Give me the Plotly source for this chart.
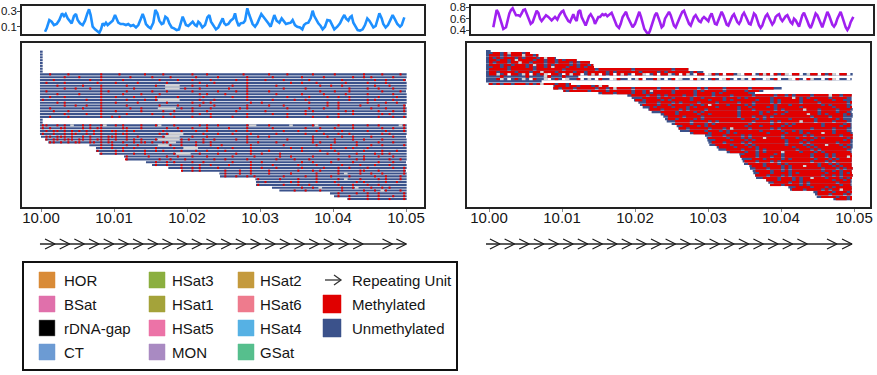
import math
import plotly.graph_objects as go

W, H = 877, 375
MB0 = 10.0          # window start (Mb)
BIN_KB = 0.5        # methylation-call bin size (kb)

# ---------------- top tracks: methylation frequency per window ----------------
left_track_kb = [0.55,0.78,1.14,1.46,1.78,2.15,2.51,2.88,3.15,3.38,3.65,3.97,4.20,4.52,4.79,5.02,5.34,5.71,6.03,6.35,
                 6.58,6.80,7.08,7.40,7.76,7.99,8.22,8.45,8.68,8.90,9.13,9.45,9.82,10.14,10.37,10.59,10.91,11.28,11.64,11.96,
                 12.28,12.65,13.01,13.33,13.65,13.93,14.16,14.38,14.70,15.02,15.39,15.66,15.94,16.21,16.53,16.76,17.03,17.31,17.58,17.90,
                 18.22,18.58,18.90,19.13,19.41,19.63,19.86,20.18,20.50,20.78,21.10,21.32,21.55,21.78,22.10,22.47,22.79,23.06,23.29,23.61,
                 23.97,24.29,24.61,24.89,25.11,25.34,25.66,25.98,26.35,26.58,26.80,27.08,27.35,27.72,27.95,28.26,28.54,28.77,28.99,29.32,
                 29.63,29.91,30.18,30.46,30.78,31.14,31.46,31.74,31.96,32.28,32.65,32.97,33.29,33.56,33.88,34.20,34.47,34.79,35.11,35.48,
                 35.80,36.03,36.30,36.62,36.94,37.21,37.44,37.76,37.99,38.31,38.58,38.90,39.22,39.59,39.91,40.18,40.59,40.96,41.28,41.55,
                 41.78,42.10,42.33,42.56,42.79,43.11,43.38,43.70,44.06,44.38,44.70,44.98,45.21,45.53,45.84,46.12,46.35,46.67,46.89,47.21,
                 47.53,47.90,48.17,48.49,48.81,49.18,49.41,49.77]
left_track_val = [0.036,0.079,0.185,0.164,0.121,0.134,0.185,0.270,0.236,0.262,0.206,0.164,0.143,0.236,0.262,0.185,0.143,0.121,0.177,0.270,
                  0.321,0.249,0.100,0.066,0.036,0.023,0.066,0.143,0.121,0.151,0.121,0.151,0.177,0.249,0.206,0.151,0.134,0.134,0.121,0.134,
                  0.109,0.121,0.091,0.121,0.194,0.262,0.206,0.134,0.100,0.079,0.151,0.313,0.270,0.177,0.134,0.143,0.228,0.206,0.143,0.091,
                  0.079,0.057,0.066,0.143,0.228,0.177,0.121,0.109,0.134,0.164,0.121,0.109,0.164,0.143,0.091,0.121,0.219,0.249,0.164,0.109,
                  0.066,0.091,0.143,0.206,0.143,0.121,0.134,0.177,0.206,0.270,0.177,0.109,0.143,0.151,0.177,0.334,0.249,0.177,0.134,0.100,
                  0.143,0.206,0.262,0.228,0.194,0.143,0.100,0.177,0.249,0.177,0.151,0.206,0.164,0.134,0.143,0.151,0.185,0.121,0.100,0.091,
                  0.066,0.121,0.143,0.151,0.206,0.304,0.236,0.177,0.143,0.109,0.066,0.100,0.185,0.177,0.121,0.066,0.100,0.143,0.206,0.249,
                  0.206,0.177,0.219,0.236,0.151,0.100,0.057,0.049,0.066,0.121,0.206,0.177,0.134,0.091,0.109,0.206,0.270,0.206,0.134,0.091,
                  0.121,0.194,0.249,0.194,0.134,0.100,0.121,0.219]

right_track_kb = [0.59,0.82,1.05,1.28,1.51,1.74,1.96,2.33,2.56,2.79,3.01,3.24,3.47,3.70,4.02,4.25,4.47,4.70,4.93,5.16,
                  5.39,5.71,5.98,6.30,6.53,6.76,6.99,7.21,7.44,7.81,8.13,8.36,8.58,8.81,9.04,9.36,9.63,9.95,10.18,10.41,
                  10.64,10.87,11.10,11.32,11.55,11.78,12.01,12.24,12.47,12.69,13.01,13.24,13.47,13.70,13.93,14.29,14.52,14.75,14.98,15.21,
                  15.53,15.75,15.98,16.21,16.58,16.80,17.03,17.26,17.49,17.81,18.04,18.31,18.54,18.77,19.00,19.22,19.45,19.68,20.00,20.23,
                  20.46,20.59,20.82,21.05,21.28,21.60,21.83,22.05,22.28,22.51,22.74,22.97,23.20,23.42,23.65,23.88,24.11,24.43,24.66,24.89,
                  25.11,25.34,25.57,25.80,26.03,26.26,26.48,26.71,26.94,27.17,27.40,27.63,27.85,28.08,28.31,28.54,28.77,29.00,29.22,29.45,
                  29.68,30.05,30.27,30.50,30.73,30.96,31.19,31.42,31.64,31.87,32.10,32.33,32.56,32.79,33.01,33.33,33.56,33.79,34.02,34.25,
                  34.47,34.70,34.93,35.16,35.39,35.62,35.84,36.07,36.30,36.53,36.76,36.99,37.21,37.44,37.67,37.90,38.13,38.36,38.58,38.81,
                  39.04,39.27,39.50,39.73,39.95,40.18,40.41,40.64,40.87,41.10,41.32,41.55,41.78,42.01,42.24,42.47,42.69,42.92,43.15,43.38,
                  43.61,43.84,44.06,44.29,44.52,44.75,44.98,45.21,45.43,45.66,45.89,46.12,46.35,46.58,46.80,47.03,47.26,47.49,47.72,47.95,
                  48.17,48.40,48.63,48.86,49.09,49.32,49.54,49.91]
right_track_val = [0.448,0.630,0.752,0.703,0.600,0.479,0.418,0.448,0.570,0.691,0.752,0.782,0.721,0.661,0.661,0.642,0.691,0.752,0.764,0.691,
                   0.600,0.509,0.539,0.661,0.739,0.703,0.600,0.558,0.600,0.661,0.630,0.600,0.570,0.600,0.630,0.582,0.661,0.721,0.739,0.661,
                   0.600,0.558,0.539,0.600,0.679,0.600,0.558,0.721,0.752,0.630,0.539,0.479,0.558,0.642,0.679,0.600,0.509,0.558,0.630,0.630,
                   0.679,0.661,0.679,0.642,0.691,0.703,0.630,0.539,0.479,0.436,0.509,0.630,0.679,0.721,0.630,0.570,0.497,0.448,0.509,0.600,
                   0.691,0.721,0.630,0.509,0.418,0.358,0.327,0.388,0.479,0.558,0.661,0.703,0.630,0.539,0.448,0.479,0.600,0.679,0.721,0.661,
                   0.558,0.479,0.448,0.509,0.600,0.661,0.721,0.739,0.661,0.582,0.509,0.479,0.539,0.630,0.661,0.600,0.558,0.539,0.600,0.630,
                   0.600,0.558,0.642,0.691,0.600,0.509,0.497,0.570,0.661,0.721,0.661,0.558,0.497,0.479,0.558,0.642,0.679,0.600,0.539,0.509,
                   0.558,0.661,0.703,0.642,0.570,0.509,0.497,0.600,0.691,0.661,0.570,0.479,0.436,0.479,0.570,0.642,0.679,0.618,0.558,0.497,
                   0.539,0.630,0.661,0.679,0.600,0.558,0.600,0.642,0.661,0.600,0.539,0.509,0.600,0.570,0.509,0.461,0.558,0.661,0.703,0.642,
                   0.558,0.479,0.436,0.509,0.600,0.691,0.661,0.582,0.521,0.448,0.539,0.642,0.721,0.661,0.558,0.497,0.461,0.509,0.600,0.679,
                   0.721,0.630,0.539,0.448,0.400,0.448,0.539,0.630]

# ---------------- reads (kb from 10.00 Mb) and per-bin methylation calls ----------------
# calls: one char per 0.5 kb bin from the read's first bin; m = methylated, u/. = unmethylated,
#        g = no call, w = gap
left_read_start_kb = [-0.14,-0.14,-0.14,-0.14,-0.14,-0.14,-0.14,-0.14,
                      -0.14,-0.14,-0.14,-0.14,-0.14,-0.14,-0.14,-0.14,-0.14,-0.14,-0.14,-0.14,-0.14,-0.14,-0.14,-0.14,
                      -0.14,-0.14,
                      -0.14,-0.14,-0.14,-0.14,0.0,0.55,1.0,6.62,7.53,7.53,7.99,11.37,11.64,14.38,15.21,17.44,19.27,
                      24.43,24.52,29.36,29.45,29.45,31.64,32.65,39.59,40.14,41.96]
left_read_end_kb = [0.23,0.23,0.23,0.23,0.23,0.23,0.23,0.23,
                    50.09,50.09,50.0,50.09,50.09,50.09,50.0,50.09,50.09,50.09,50.09,50.0,50.09,50.09,50.09,50.09,
                    0.23,0.23,
                    50.09,50.09,50.09,50.09,50.0,50.09,50.09,50.09,50.09,50.09,50.09,50.09,50.09,50.0,50.09,50.09,50.0,
                    50.09,50.09,50.09,50.09,50.09,50.09,50.09,50.09,50.09,50.09]
left_read_calls = [
    "", "", "", "", "", "", "", "",
    "..m....m.. ......m... .m......m. ...m...... .m...m.... .....m.... ..m....m.. ....m..... m.......m. ...m....m.",
    "......m... m.....m... ....m..... m....m.... ..m.....m. ......m... ...m...... .m.....m.. .....m..m. m.....m...",
    "...m...... ...m..m... ..m....... ..m....m.. .m....m... ...m..m... .m....m... ...m...... ..m....... .m..m....m",
    ".m....m... .....m.... m.....m... ....m..... ...m...m.. ......m... ........m. .m...m.... ...m.....m ....m.....",
    "....m..... .m....m... ...m...... .m..gggg.. .m...m.... ..m...m... ....m..... ......m..m ..m....... .m...m....",
    "......m..m ...m..m... .....m.... ....gggg.m ...m...... .m....m... ......m... ..m....... ....m....m ..m...m...",
    ".m........ ......m.m. ...m...... m...m..... .m......m. ...m..m... ..m....... ......m... m...m..... ...m....m.",
    "....m..... m.....m... ..m....m.. ..m....... ...m.m.... m.....m... ....m..... .m.....m.. ...m.....m ......m...",
    "..m...m... ......m... m....m.... .m.....m.. ....m..... ..m...m... .......m.. ...m....m. .m..m..... ..m....m..",
    "m......... ..m...m... ...m....m. .mgggggg.. ...m...m.. ......m... ...m.....m ..m....... ....m....m .m....m...",
    "....m.m... ......m... m.....m... ....m..... .m..m.m... .......m.. m......... ...m....m. .m.......m ....m..m..",
    "......m..m ..m...m... ...m...... ..m....m.. ...m...m.. ......m... ..m...m... ........m. .m.....m.. ..m......m",
    "..m....... .m....m... ....m..m.. ..ggggg.m. .m....m... ....m.m... .......m.. ...m...m.. .m........ m...m....m",
    "...m...m.. ......m... m......m.. ...m..m... .m...m.... ...m...... .m........ ..m.m..... ...m.m.... ..m...m..m",
    "......m... ..m...m... ...m...... m....m.... ...m..m... ......m... ...m...m.. ..m....... .m...m.... ...m.m....",
    "..m....m.. ......m..m .m........ ...m..m... .m....m... ..m...m... .......m.. ....m...m. .m........ ..m...m..m",
    "", "",
    "mm..m.m.g. .m.m..mg.. m.m....m.. .mg...m... ...m.m..m. ......mgg. ..m.....g. ....mg.... .m...m...m ..m.....gm",
    "m.m..mm... .m.m.mm... ..mm...m.. ....m..m.. .m...m.... .m....m... ...m...... ..m...m... m....m.... ...m..m..m",
    ".m.mm.m.m. m.m.m.m..m m..m.m.... ...m....m. ..m..m.... ...m..m... ......m... m....m.... ..m......m ....m....m",
    "m..m..m.mm ..m.m.m... m.mm...... ..m.mgggg. ....m...m. ..m....m.. ....m..... ..m....m.. .m..m..... ...m.m....",
    ".mm.mmm.m. .m.m..m.mm m..m..m... ...mgggg.. .m...m.... ......m..m ..m....... ....m...m. ..m..m.... m.....m...",
    "m.mm.mmm.m m.m.mm.m.m ..m.m.m... mggggggm.m ...m..m... ..m..m.... ......m... ...m.....m ....m..m.. ..m......m",
    "mm.m.m.mm. .mm.m.mm.. m..m.mm.m. .mmgg.m... m.m.m..... ....m..m.. ..m....... ..m.m...m. ....m..... m...m...m",
    "...m..m... m..m.....g ggm..m...m ...m..m... ....m..... ...m...... ..m...m... ...m...m.. m.....m...",
    ".m..m..m.. m.....m... .m..gggg.. ...m...m.. ..m....... ...m..m... ....m...m. m...m.....",
    "m....m.m.. ...m..m.m. ...m...m.. m....m.... ..m....m.. ......m... .m...m.... ...m....m. ..m",
    ".m...m.... m..m...... .mgggg..m. ...m....m. ..m..m.... m......... ...m..m... .m....m.m. m..",
    ".m.....m.. ..m..m...m ...m...... m.....m... ...m..m... ..m....... ..m...m... m...m...m.",
    "m........m ..m...m... ....m..m.. ...m...... .m....m... m.......m. ...m.m.... ..m..m....",
    "...m..m.m. ...m..m... ....m....m ..m....... ...m..m... .m.....m.. ....m...m.",
    ".m..m...m. ...m..m... .m.....m.. ...m...... m....m.... ..m....m.. .m...m....",
    "m...m..m.m ....m..... ...m..m... m......m.. ...m...m.. m....m.... ..m..m...m",
    "m..m.m.... ..m...m..m ....m..... ..m...m.m. ...m.....m m...m..... .m",
    "..m...m..m ....m..... m......m.. ...m.g...m ..m..m.... .m",
    ".m..m..m.m .......m.. ...m..m... m....m.... ..m..m...m",
    ".m.....m.. ..m....m.. ...m.g...m ....m.m... m",
    "...m...... m.m....m.. ..m.....m. m.....m..m",
    ".m......m. ..m..m.... ...m...m.. .m..m.....",
    "........m. .m.g.....m ..mg...m.. m.m....",
    "....m..m.. .m.....m.. ...m..m.gm ...m",
    "..m....m.. m..m......m",
    ".m..m....m ..m...m..m",
    ".m....m ..m..m...m",
]

right_read_start_kb = [-0.41,-0.41,-0.41,-0.41,-0.41,-0.41,-0.41,-0.41,-0.41,-0.41,-0.41,-0.41,-0.41,-0.41,-0.09,
                       8.81,8.81,10.18,14.98,18.95,19.54,19.86,20.46,20.68,21.05,21.83,22.28,23.52,23.88,24.11,
                       24.34,25.02,25.71,25.94,26.16,27.53,29.59,29.82,29.91,30.05,30.18,31.19,31.42,32.56,34.29,
                       34.38,34.61,34.75,34.93,35.66,35.75,36.12,36.21,36.44,36.58,37.95,38.26,38.49,41.00,41.23,
                       44.43,44.66,44.89,47.17]
right_read_end_kb = [0.23,5.62,6.76,9.18,12.01,13.84,14.29,14.38,27.31,29.36,49.82,12.24,49.68,7.21,11.10,
                     16.35,40.09,37.58,36.44,49.68,49.68,49.68,49.68,49.68,49.68,49.82,49.68,49.82,49.82,49.68,
                     49.68,49.68,49.68,49.68,49.68,49.82,49.82,49.82,49.82,49.82,49.82,49.82,49.68,49.68,49.68,
                     49.68,49.68,49.68,49.68,49.68,49.82,49.68,49.68,49.82,49.68,49.68,49.68,49.68,49.68,49.68,
                     49.68,49.68,49.68,49.68]
right_read_calls = [
    "u",
    "ummumgmmmummu",
    "mmmumummmgmmum",
    "mumummmumummmumgmm",
    "mmummumgmmmmummummumummm",
    "mummmummgmmummmummummmumummm",
    "mmmummummmumgmmumummmmumummum",
    "ummumummmmumummumgmmmummumumm",
    "mmmmmummmmmmummmmmmmummmmmmmmummmmmmmmmummmmmmmmmmummmm",
    "mmummmmummmummgmmmummmmummummmmmumummmmmmummmmumummmmmmum",
    "mmgumwmmugmwmumgwmmuwmgmmwumgmwmumwmgmuwmmgwumwmmgumwmguwmmwgmumwmmugwmmwumgmwmumgwmmwugmmwmumgwmmwu",
    "uuumuuuuuumuuuugmuuumuuuu",
    "uumguwumuguwmuugwumuwguumwuguwmuuwgmuuwugmwuumguwumwguuwmguwumuwgmuwuguwmuuwgumwuugwmuwmguuwumgwuuw",
    "uuuuuuuuuuuuuuu",
    "mumummummmumumgmmmummum",
    "ummmummummmumgmm",
    "mmummmummmmmummumgmmmmummmmmmummmmummmmmumummmmummmmmmummmmmmu",
    "mummmmmummmmummmmmmummumgmmmmmummmmmumummmmmummmmmummm",
    "uummmummmmummumummmmmummmmmummmmumummmmmmmu",
    "uummmmummumummmmummummmmummmmummmmmummmmmummumummmmummmmgmmummmu",
    "uuummmmummmummmmummummmmmummmumummmmmmummmmmgmumummmmmummmm",
    "ummummmmumummmmmummmmummmumummmmmmummmumummmmmummmummmmumm",
    "uuummmummmumummmmummmmummmmmummmummmmumummmmmummmmummmmmmmum",
    "ummmmummummmmmummumgmmmmummmmumummmmmummmummmmmmmmumummmm",
    "uumummmmummmumummmmmummmmmummummmmumummmmmmummmmmmmmummmum",
    "ummmummmmumummmmummmmmmmmummmummmmmumummmmmgmmmummmmummm",
    "uuummmmummmmumummmmmmmmmummmmmumummmmummmmmmmmummmmumm",
    "ummmummmmmummummmmmmmummmmmummmumummmmmmgmmumummmmum",
    "uummmmummmmummmmmmmmmummmummumummmmmmmmmmummmmummm",
    "ummummmmumummmmmmmmmmummmumummmmmmummmmmmummmmmum",
    "uuummmmummmmumummmmmmmmmummmmumummmmmgmmmummmmummm",
    "ummmmummmumummmmmmmmmummmmmummmumummmmmmmummmmmum",
    "uummmmumummmmmmmmmmummmummmmmumummmmmmmmummmmumm",
    "ummummmmmummmumgmmmmummmmmumummmmmmmmummmmmummm",
    "uuummmmummmumummmmmmmmummmmmummumummmmmmmmummmu",
    "ummmmummmmumummmmmmmmummmmummmumummmgmmummmm",
    "uummmummmmumummmmmmmmummmmmumummmmmmmummmm",
    "ummmmmummmumummmgmmmmummmummmmumummmmmmum",
    "uuummmmummmumummmmmmmmummmmumummmmmmmmum",
    "ummmummmmumummmmmmmmmummmumummmmmmmummm",
    "uummmmummmumummmmmmmmummmmumummmgmmmum",
    "ummmmummmumummmmmmmmmummmumummmmmmmum",
    "uuummmmummmumummmmmmmmummmumummmmmmmu",
    "ummmmummumummmmgmmmmummmumummmmmmmum",
    "uummmummmmumummmmmmmummmumummmmmmmu",
    "ummmmummmummummmmmmmummmumummmgmmum",
    "uuummmummmmumummmmmmummmumummmmmmm",
    "ummmummmumummmmmmmmummmumummmmmmmu",
    "uummmmummmumummmmmmmmummumummmmmmm",
    "ummmummmmumummmgmmmummmumummmmmm",
    "uummmummmumummmmmmmmummmumummmmm",
    "ummmmummumummmmmmmmummumummmgmm",
    "uummmummmmumummmmmmmummmumummmm",
    "ummmummmumummmmmmmmummumummmmm",
    "uummmmummmumummgmmmummmumummmm",
    "ummmummmumummmmmmmmummumummm",
    "uummmmummumummmmmmmummmumummm",
    "ummmummmmumummmmmmmmummumummm",
    "uummmmummmumummmmmmum",
    "ummmummmmumummgmmmum",
    "uummmmummmumumm",
    "ummmummmumumm",
    "uummmmummumm",
    "ummmummm",
]

# repeating-unit positions (kb, arrow tip)
left_repeat_kb = [1.92,3.93,5.94,7.95,9.96,11.97,13.98,15.99,18.00,20.01,22.02,24.03,26.04,28.05,30.06,32.07,
                  34.08,36.09,38.10,40.11,42.12,44.13,48.15,50.05]
left_unit_span_kb = [-0.14, 50.05]
right_repeat_kb = [1.50,3.51,5.51,7.52,9.52,11.53,13.53,15.54,17.54,19.55,21.55,23.56,25.56,27.57,29.57,31.58,
                   33.58,35.59,37.59,39.60,41.60,43.61,47.67,49.73]
right_unit_span_kb = [-0.41, 49.73]

x_tick_vals = [10.00, 10.01, 10.02, 10.03, 10.04, 10.05]
x_tick_text = ["10.00", "10.01", "10.02", "10.03", "10.04", "10.05"]
left_track_ticks = [0.1, 0.3]
right_track_ticks = [0.4, 0.6, 0.8]

legend_columns = [
    [("HOR", "#D98B37"), ("BSat", "#E070AB"), ("rDNA-gap", "#000000"), ("CT", "#6C9BD3")],
    [("HSat3", "#8BAF3F"), ("HSat1", "#A4A33A"), ("HSat5", "#EC73A7"), ("MON", "#A98AC2")],
    [("HSat2", "#C49A3D"), ("HSat6", "#EE7B8D"), ("HSat4", "#56B1E4"), ("GSat", "#56BF8D")],
]
legend_col4 = [("Repeating Unit", None), ("Methylated", "#E00000"), ("Unmethylated", "#3B528B")]

# ---------------- styles ----------------
C_METH = "#E00000"
C_UNMETH = "#3B528B"
C_NOCALL = "#D3D3D3"
FONT = "Liberation Sans, Arial, sans-serif"
TXT = "#151515"
ARROW_LEN_KB = 1.37


def px(x):
    return x / W


def py(y):
    return 1 - y / H


def mb(kb):
    return MB0 + kb / 1000.0


def build_segments(starts, ends, calls, tick_frac):
    segs = {k: ([], [], []) for k in "umgw"}
    for r, (s, e, c) in enumerate(zip(starts, ends, calls)):
        segs["u"][0].append(r)
        segs["u"][1].append(mb(s))
        segs["u"][2].append((e - s) / 1000.0)
        c = c.replace(" ", "")
        b0 = max(0, math.floor(s / BIN_KB))
        k = 0
        while k < len(c):
            ch = c[k]
            j = k
            while j + 1 < len(c) and c[j + 1] == ch:
                j += 1
            pieces = []
            if ch == "m" and tick_frac < 1:
                for b in range(k, j + 1):
                    mid = (b0 + b + 0.5) * BIN_KB
                    pieces.append((mid - BIN_KB * tick_frac / 2, mid + BIN_KB * tick_frac / 2))
            else:
                pieces.append(((b0 + k) * BIN_KB, (b0 + j + 1) * BIN_KB))
            k = j + 1
            if ch not in "mgw":
                continue
            for lo, hi in pieces:
                lo, hi = max(lo, s), min(hi, e)
                if hi <= lo:
                    continue
                segs[ch][0].append(r)
                segs[ch][1].append(mb(lo))
                segs[ch][2].append((hi - lo) / 1000.0)
    return segs


def bar_traces(segs, xa, ya, thickness):
    out = []
    for key, col in (("u", C_UNMETH), ("g", C_NOCALL), ("w", "#FFFFFF"), ("m", C_METH)):
        rows, base, length = segs[key]
        if not rows:
            continue
        out.append(go.Bar(orientation="h", y=rows, base=base, x=length, width=thickness,
                          marker=dict(color=col, line=dict(width=0)), xaxis=xa, yaxis=ya,
                          hoverinfo="skip", showlegend=False))
    return out


def arrow_traces(tips, span, xa, ya):
    xs, ys = [], []
    for t in tips:
        xs += [mb(t - ARROW_LEN_KB), mb(t), mb(t - ARROW_LEN_KB), None]
        ys += [0.5, 0, -0.5, None]
    return [
        go.Scatter(x=[mb(span[0]), mb(span[1])], y=[0, 0], mode="lines", line=dict(color="#5a5a5a", width=2),
                   xaxis=xa, yaxis=ya, hoverinfo="skip", showlegend=False),
        go.Scatter(x=xs, y=ys, mode="lines", line=dict(color="#1a1a1a", width=1.2),
                   xaxis=xa, yaxis=ya, hoverinfo="skip", showlegend=False),
    ]


fig = go.Figure()

# top tracks
fig.add_trace(go.Scatter(x=[mb(k) for k in left_track_kb], y=left_track_val, mode="lines",
                         line=dict(color="#1E90FF", width=2.6), xaxis="x", yaxis="y",
                         hoverinfo="skip", showlegend=False))
fig.add_trace(go.Scatter(x=[mb(k) for k in right_track_kb], y=right_track_val, mode="lines",
                         line=dict(color="#A020F0", width=2.6), xaxis="x4", yaxis="y4",
                         hoverinfo="skip", showlegend=False))

# reads
for t in bar_traces(build_segments(left_read_start_kb, left_read_end_kb, left_read_calls, 0.55), "x2", "y2", 0.74):
    fig.add_trace(t)
for t in bar_traces(build_segments(right_read_start_kb, right_read_end_kb, right_read_calls, 1.0), "x5", "y5", 0.8):
    fig.add_trace(t)

# repeating units
for t in arrow_traces(left_repeat_kb, left_unit_span_kb, "x3", "y3"):
    fig.add_trace(t)
for t in arrow_traces(right_repeat_kb, right_unit_span_kb, "x6", "y6"):
    fig.add_trace(t)

L_RANGE = [10 + (22 - 41) / 7300, 10 + (424 - 41) / 7300]
R_RANGE = [10 + (467 - 489) / 7300, 10 + (870 - 489) / 7300]
RT_RANGE = [10 + (471 - 489) / 7300, 10 + (873 - 489) / 7300]

box = dict(showline=True, mirror=True, linecolor="#222", linewidth=1.5, showgrid=False, zeroline=False)

fig.update_layout(
    width=W, height=H, margin=dict(l=0, r=0, t=0, b=0, autoexpand=False),
    paper_bgcolor="white", plot_bgcolor="white", barmode="overlay", showlegend=False,
    font=dict(family=FONT, color=TXT),
    # left top track
    xaxis=dict(domain=[px(22), px(424)], range=L_RANGE, anchor="y", showticklabels=False, ticks="", **box),
    yaxis=dict(domain=[py(34), py(6)], range=[0.007, 0.364], anchor="x", tickvals=left_track_ticks,
               ticktext=[f"{v:.1f}" for v in left_track_ticks], ticks="outside", ticklen=3, tickcolor="#444",
               tickfont=dict(family=FONT, size=11.5, color=TXT), ticklabelstandoff=-2, automargin=False, **box),
    # left reads
    xaxis2=dict(domain=[px(22), px(424)], range=L_RANGE, anchor="y2", tickvals=x_tick_vals, ticktext=x_tick_text,
                ticks="outside", ticklen=3, tickcolor="#888", tickfont=dict(family=FONT, size=15, color=TXT),
                ticklabelstandoff=-7, automargin=False, **box),
    yaxis2=dict(domain=[py(207), py(43)], range=[54.82, -3.07], anchor="x2", showticklabels=False, ticks="", **box),
    # left repeating units
    xaxis3=dict(domain=[px(22), px(424)], range=L_RANGE, anchor="y3", visible=False),
    yaxis3=dict(domain=[py(254), py(234)], range=[-1, 1], anchor="x3", visible=False),
    # right top track
    xaxis4=dict(domain=[px(471), px(873)], range=RT_RANGE, anchor="y4", showticklabels=False, ticks="", **box),
    yaxis4=dict(domain=[py(34), py(6)], range=[0.33, 0.823], anchor="x4", tickvals=right_track_ticks,
                ticktext=[f"{v:.1f}" for v in right_track_ticks], ticks="outside", ticklen=3, tickcolor="#444",
                tickfont=dict(family=FONT, size=11.5, color=TXT), ticklabelstandoff=-2, automargin=False, **box),
    # right reads
    xaxis5=dict(domain=[px(467), px(870)], range=R_RANGE, anchor="y5", tickvals=x_tick_vals, ticktext=x_tick_text,
                ticks="outside", ticklen=3, tickcolor="#888", tickfont=dict(family=FONT, size=15, color=TXT),
                ticklabelstandoff=-7, automargin=False, **box),
    yaxis5=dict(domain=[py(207), py(43)], range=[66.27, -3.4], anchor="x5", showticklabels=False, ticks="", **box),
    # right repeating units
    xaxis6=dict(domain=[px(467), px(870)], range=R_RANGE, anchor="y6", visible=False),
    yaxis6=dict(domain=[py(254), py(234)], range=[-1, 1], anchor="x6", visible=False),
)

# ---------------- legend box (drawn) ----------------
shapes = [dict(type="rect", xref="paper", yref="paper", x0=px(23), x1=px(457), y0=py(370), y1=py(262),
               line=dict(color="#111", width=2), fillcolor="rgba(0,0,0,0)")]
annotations = []
row_y = [280, 304, 328, 352]
col_sq_x = [47, 157, 246]
col_txt_x = [62, 170, 258]
for ci, col in enumerate(legend_columns):
    for ri, (label, color) in enumerate(col):
        cx, cy = col_sq_x[ci], row_y[ri]
        shapes.append(dict(type="rect", xref="paper", yref="paper", x0=px(cx - 8), x1=px(cx + 8),
                           y0=py(cy + 8), y1=py(cy - 8), fillcolor=color,
                           line=dict(color="#777" if color == "#000000" else color, width=0.5)))
        annotations.append(dict(x=px(col_txt_x[ci]), y=py(cy), xref="paper", yref="paper", text=label,
                                showarrow=False, xanchor="left", yanchor="middle",
                                font=dict(family=FONT, size=15, color=TXT)))
for ri, (label, color) in enumerate(legend_col4):
    cy = row_y[ri]
    if color is None:
        shapes.append(dict(type="line", xref="paper", yref="paper", x0=px(325), x1=px(341), y0=py(cy), y1=py(cy),
                           line=dict(color="#333", width=1.3)))
        shapes.append(dict(type="path", xref="paper", yref="paper",
                           path=f"M {px(334)},{py(cy - 5)} L {px(341)},{py(cy)} L {px(334)},{py(cy + 5)}",
                           line=dict(color="#333", width=1.3)))
    else:
        shapes.append(dict(type="rect", xref="paper", yref="paper", x0=px(323), x1=px(341),
                           y0=py(cy + 9), y1=py(cy - 9), fillcolor=color, line=dict(color=color, width=0.5)))
    annotations.append(dict(x=px(350), y=py(cy), xref="paper", yref="paper", text=label,
                            showarrow=False, xanchor="left", yanchor="middle",
                            font=dict(family=FONT, size=15, color=TXT)))

fig.update_layout(shapes=shapes, annotations=annotations)

fig.write_html("out.html", config={"displayModeBar": False},
               post_script="document.body.style.margin='0';document.body.style.padding='0';")
